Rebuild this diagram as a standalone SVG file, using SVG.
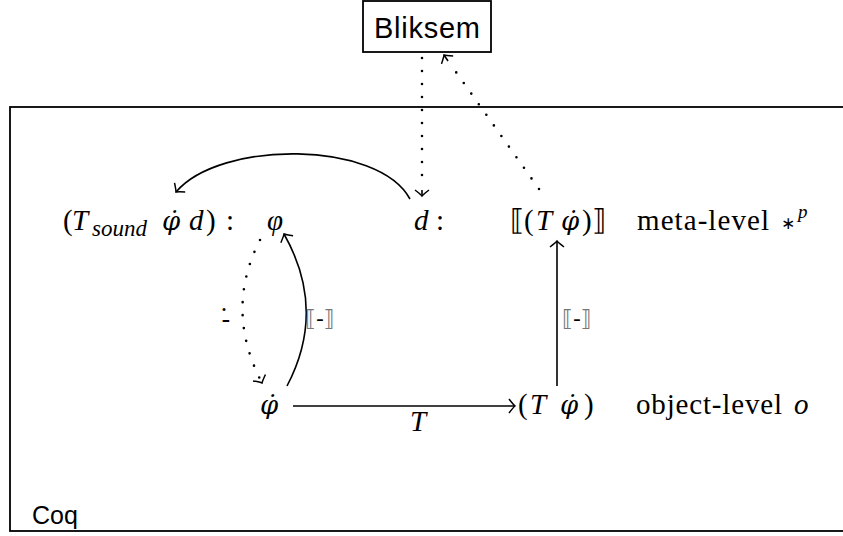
<svg xmlns="http://www.w3.org/2000/svg" width="843" height="536" viewBox="0 0 843 536">
<style>
.m{font-family:"Liberation Serif","Times New Roman",serif;font-size:29px;fill:#000}
.i{font-style:italic}
.pd{font-family:"DejaVu Serif",serif;font-style:italic;font-size:26px}
.s{font-family:"Liberation Sans",Arial,sans-serif;fill:#000}
.c{fill:none;stroke:#000;stroke-width:1.6}
.d{fill:none;stroke:#000;stroke-width:2.6;stroke-linecap:round;stroke-dasharray:0 13}
.br{font-family:"DejaVu Sans",sans-serif;font-size:22px;fill:#777}
</style>
<defs>
<marker id="ah" markerWidth="16" markerHeight="16" refX="0" refY="0" viewBox="-8 -8 10 16" markerUnits="userSpaceOnUse" orient="auto">
<path d="M -6 -7 Q -1.5 -1.2 0 0 Q -1.5 1.2 -6 7" fill="none" stroke="#000" stroke-width="1.5"/>
</marker>
</defs>
<rect x="10" y="107" width="840" height="424" fill="none" stroke="#000" stroke-width="1.8"/>
<text class="s" font-size="25" x="32" y="524">Coq</text>
<g id="bliksem">
<rect x="363" y="1" width="128" height="51" fill="#fff" stroke="#000" stroke-width="1.8"/>
<text class="s" font-size="29" x="427" y="38" text-anchor="middle" textLength="106">Bliksem</text>
</g>
<g id="tsound">
<text class="m" x="63" y="230">(<tspan class="i" x="72">T</tspan><tspan class="i" font-size="23" x="92" y="236">sound</tspan><tspan class="pd" x="162" y="230">φ̇</tspan><tspan class="i" x="189">d</tspan><tspan x="206">)</tspan><tspan x="226">:</tspan></text>
</g>
<g id="phi"><text class="m i" x="267" y="230">φ</text></g>
<g id="d"><text class="m" x="414" y="230"><tspan class="i">d</tspan><tspan x="436">:</tspan></text></g>
<g id="semT">
<text class="m" x="510" y="230">⟦(<tspan class="i" x="536">T</tspan><tspan class="pd" x="561">φ̇</tspan><tspan x="582">)⟧</tspan></text>
</g>
<g id="meta"><text class="m" x="637" y="230"><tspan textLength="132">meta-level</tspan><tspan font-size="17" x="781" y="229" font-family="DejaVu Sans">∗</tspan><tspan class="i" font-size="19" x="798" y="218">p</tspan></text></g>
<g id="phidot"><text class="m pd" x="260" y="414">φ̇</text></g>
<g id="Tphidot">
<text class="m" x="518" y="414">(<tspan class="i" x="530">T</tspan><tspan class="pd" x="560">φ̇</tspan><tspan x="584">)</tspan></text>
</g>
<g id="obj"><text class="m" x="636" y="414"><tspan textLength="146">object-level</tspan><tspan class="i" x="794">o</tspan></text></g>
<g id="connectors">
<path class="c" d="M 410 199 C 378 140, 220 140, 176 192" marker-end="url(#ah)"/>
<path class="c" d="M 287 386 Q 327 310 284 234" marker-end="url(#ah)"/>
<path class="d" d="M 260 240 Q 224 310 262 383" marker-end="url(#ah)"/>
<path class="d" d="M 422 58 L 422 188"/>
<path class="c" d="M 422 190 L 422 196" stroke="none" marker-end="url(#ah)"/>
<path class="d" d="M 539 189 L 451 65"/>
<path class="c" d="M 448 61 L 444 55" stroke="none" marker-end="url(#ah)"/>
<path class="c" d="M 293 406 L 515 406" marker-end="url(#ah)"/>
<path class="c" d="M 557 386 L 557 241" marker-end="url(#ah)"/>
<text class="m i" font-size="17" x="418" y="431" text-anchor="middle">T</text>
<text class="br" x="320" y="326" text-anchor="middle">⟦<tspan fill="#000">-</tspan>⟧</text>
<text class="br" x="577" y="326" text-anchor="middle">⟦<tspan fill="#000">-</tspan>⟧</text>
<text font-family="DejaVu Serif" font-size="26" x="226" y="328" text-anchor="middle">-̇</text>
</g>
</svg>
